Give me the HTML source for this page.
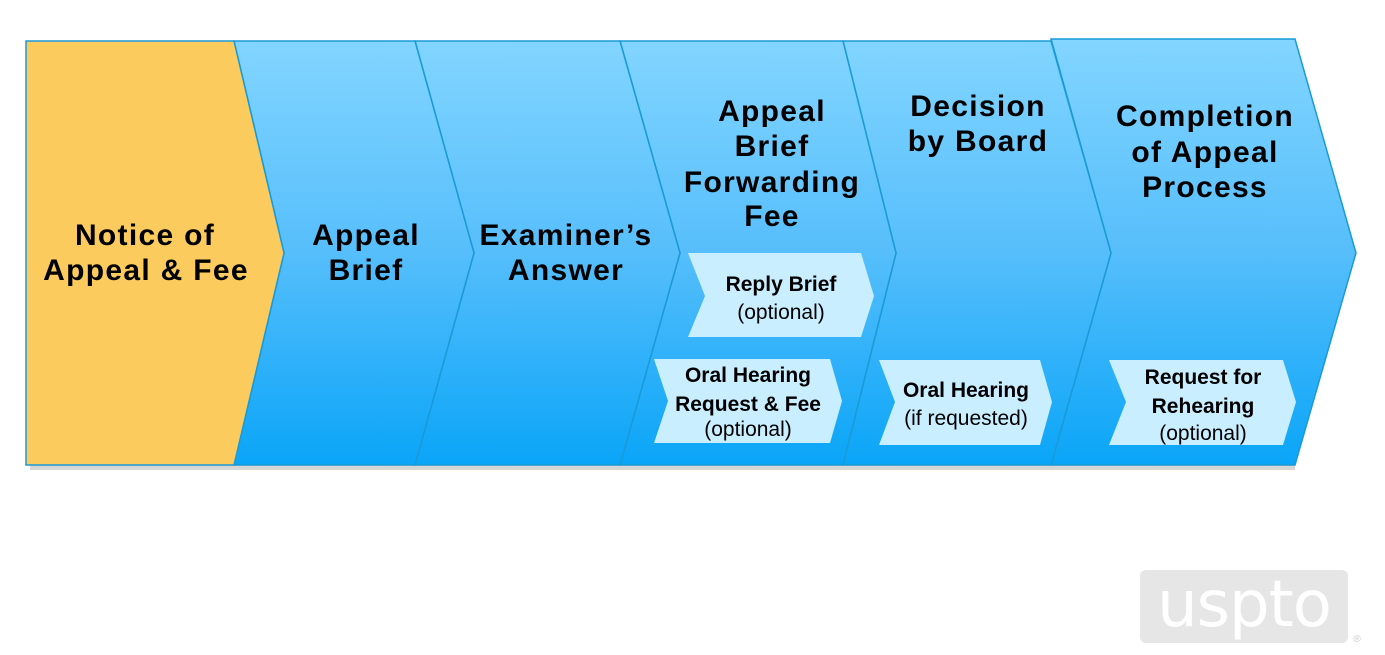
<!DOCTYPE html>
<html><head><meta charset="utf-8"><style>
html,body{margin:0;padding:0;background:#fff;width:1385px;height:655px;overflow:hidden}
svg{display:block}
.m{font-family:"Liberation Sans",sans-serif;font-weight:bold;font-size:30px;fill:#000;text-anchor:middle;letter-spacing:1.3px}
.b{font-family:"Liberation Sans",sans-serif;font-weight:bold;font-size:21px;fill:#000;text-anchor:middle}
.n{font-family:"Liberation Sans",sans-serif;font-size:21px;fill:#000;text-anchor:middle}
</style></head><body>
<svg width="1385" height="655" viewBox="0 0 1385 655">
<defs>
<linearGradient id="g" x1="0" y1="0" x2="0" y2="1">
<stop offset="0" stop-color="#82D5FF"/><stop offset="0.5" stop-color="#56BEFB"/><stop offset="1" stop-color="#0AA5F8"/>
</linearGradient>
</defs>
<g fill="#bbb" opacity="0.6">
<rect x="30" y="465" width="1265" height="5"/>
</g>
<g stroke="#1A9AD6" stroke-width="1.5">
<polygon points="1051,39 1295,39 1356,253 1295,465 1051,465 1111,253" fill="url(#g)"/>
<polygon points="843,41 1051,41 1111,253 1051,465 843,465 896,253" fill="url(#g)"/>
<polygon points="620,41 843,41 896,253 843,465 620,465 680,253" fill="url(#g)"/>
<polygon points="415,41 620,41 680,253 620,465 415,465 474,253" fill="url(#g)"/>
<polygon points="234,41 415,41 474,253 415,465 234,465 284,253" fill="url(#g)"/>
<polygon points="26,41 234,41 284,253 234,465 26,465" fill="#FCCB5E"/>
</g>
<g fill="#C8EEFF">
<polygon points="688,253 861,253 874,296 861,337 688,337 705,296"/>
<polygon points="654,359 830,359 842,401 830,443 654,443 668,401"/>
<polygon points="879,360 1040,360 1052,402 1040,445 879,445 895,402"/>
<polygon points="1109,360 1283,360 1296,402 1283,445 1109,445 1126,402"/>
</g>
<text class="m" x="145" y="245">Notice of</text>
<text class="m" x="146" y="280">Appeal &amp; Fee</text>
<text class="m" x="366" y="245">Appeal</text>
<text class="m" x="366" y="280">Brief</text>
<text class="m" x="566" y="245">Examiner’s</text>
<text class="m" x="566" y="280">Answer</text>
<text class="m" x="772" y="121">Appeal</text>
<text class="m" x="772" y="156">Brief</text>
<text class="m" x="772" y="192">Forwarding</text>
<text class="m" x="772" y="226">Fee</text>
<text class="m" x="978" y="116">Decision</text>
<text class="m" x="978" y="151">by Board</text>
<text class="m" x="1205" y="126">Completion</text>
<text class="m" x="1205" y="162">of Appeal</text>
<text class="m" x="1205" y="197">Process</text>
<text class="b" x="781" y="291">Reply Brief</text>
<text class="n" x="781" y="319">(optional)</text>
<text class="b" x="748" y="382">Oral Hearing</text>
<text class="b" x="748" y="411">Request &amp; Fee</text>
<text class="n" x="748" y="436">(optional)</text>
<text class="b" x="966" y="397">Oral Hearing</text>
<text class="n" x="966" y="425">(if requested)</text>
<text class="b" x="1203" y="384">Request for</text>
<text class="b" x="1203" y="413">Rehearing</text>
<text class="n" x="1203" y="440">(optional)</text>
<rect x="1140" y="570" width="208" height="73" rx="6" fill="#E6E6E6"/>
<text x="1244" y="626" font-family="'DejaVu Sans','Liberation Sans',sans-serif" font-size="64" fill="#fff" text-anchor="middle" letter-spacing="-1">uspto</text>
<text x="1357" y="642" font-family="'Liberation Sans',sans-serif" font-size="10" fill="#ccc" text-anchor="middle">®</text>
</svg>
</body></html>
